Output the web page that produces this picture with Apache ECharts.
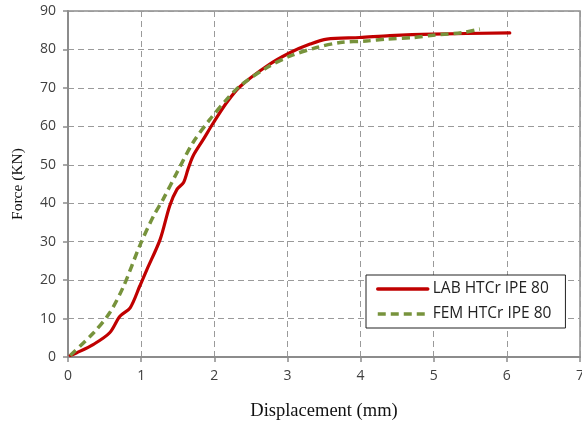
<!DOCTYPE html>
<html>
<head>
<meta charset="utf-8">
<script src="https://cdn.jsdelivr.net/npm/echarts@6/dist/echarts.min.js"></script>
<style>
  html, body { margin: 0; padding: 0; background: #fff; }
  #chart { width: 582px; height: 425px; }
</style>
</head>
<body>
<div id="chart"></div>
<script>
// Load–displacement response of the HTCr IPE 80 specimen
const labDisp = [0.03, 0.12, 0.35, 0.57, 0.71, 0.85, 0.98, 1.08, 1.26, 1.39, 1.49, 1.58, 1.64, 1.71, 1.85, 1.99, 2.17, 2.35, 2.72, 3.04, 3.31, 3.54, 3.99, 4.40, 4.99, 6.04];
const labForce = [0.4, 1.1, 3.3, 6.3, 10.6, 12.8, 18.4, 22.8, 30.6, 39.3, 43.6, 45.4, 48.8, 52.3, 56.6, 61.0, 66.2, 70.3, 75.7, 79.2, 81.4, 82.7, 83.1, 83.6, 84.0, 84.3];

const femDisp = [0.03, 0.35, 0.57, 0.76, 0.98, 1.17, 1.30, 1.49, 1.71, 1.94, 2.17, 2.35, 2.72, 3.04, 3.40, 3.72, 4.08, 4.36, 4.72, 4.99, 5.40, 5.63];
const femForce = [0.4, 6.3, 11.5, 18.4, 28.9, 36.7, 41.0, 48.0, 55.8, 61.8, 67.0, 70.5, 75.3, 78.3, 80.5, 81.8, 82.2, 82.7, 83.1, 83.7, 84.4, 85.3];

const xTicks = [0, 1, 2, 3, 4, 5, 6, 7];
const yTicks = [0, 10, 20, 30, 40, 50, 60, 70, 80, 90];

const pair = (xs, ys) => xs.map((x, i) => [x, ys[i]]);

const chart = echarts.init(document.getElementById('chart'), null, { renderer: 'canvas' });

const sansFont = 'Open Sans, Liberation Sans, sans-serif';
const serifFont = 'Liberation Serif, DejaVu Serif, serif';
const axisText = { color: '#404040', fontFamily: sansFont, fontSize: 14 };
const gridLine = { show: true, lineStyle: { color: '#9a9a9a', type: [6, 4], width: 1 } };

chart.setOption({
  animation: false,
  grid: {
    left: 68, right: 2, top: 11, bottom: 68,
    containLabel: false,
    outerBoundsMode: 'none',
    show: true, borderColor: '#8c8c8c', borderWidth: 1.5, backgroundColor: 'transparent'
  },
  legend: {
    orient: 'vertical',
    left: 366, top: 275,
    padding: [6, 14, 6, 10],
    itemGap: 9,
    itemWidth: 50, itemHeight: 16,
    backgroundColor: '#fff',
    borderColor: '#222', borderWidth: 1,
    itemStyle: { opacity: 0 },
    lineStyle: { width: 3.5 },
    textStyle: { color: '#222', fontFamily: sansFont, fontSize: 15.5 },
    data: ['LAB HTCr IPE 80', 'FEM HTCr IPE 80']
  },
  xAxis: {
    type: 'value',
    min: xTicks[0], max: xTicks[xTicks.length - 1], interval: 1,
    name: 'Displacement (mm)',
    nameLocation: 'middle', nameGap: 45,
    nameTextStyle: { color: '#111', fontFamily: serifFont, fontSize: 18.5 },
    axisLine: { show: true, lineStyle: { color: '#8c8c8c', width: 2 } },
    axisTick: { show: true, length: 5, inside: false, lineStyle: { color: '#8c8c8c', width: 1.5 } },
    axisLabel: Object.assign({ margin: 12 }, axisText),
    splitLine: gridLine
  },
  yAxis: {
    type: 'value',
    min: yTicks[0], max: yTicks[yTicks.length - 1], interval: 10,
    name: 'Force (KN)',
    nameLocation: 'middle', nameGap: 42, nameRotate: 90,
    nameTextStyle: { color: '#111', fontFamily: serifFont, fontSize: 15.5 },
    axisLine: { show: true, lineStyle: { color: '#8c8c8c', width: 2 } },
    axisTick: { show: true, length: 5, lineStyle: { color: '#8c8c8c', width: 1.5 } },
    axisLabel: Object.assign({ margin: 12 }, axisText),
    splitLine: gridLine
  },
  series: [
    {
      name: 'LAB HTCr IPE 80',
      type: 'line',
      data: pair(labDisp, labForce),
      smooth: 0.3,
      symbol: 'none',
      lineStyle: { color: '#c00000', width: 3.2, cap: 'round' },
      itemStyle: { color: '#c00000' },
      z: 3
    },
    {
      name: 'FEM HTCr IPE 80',
      type: 'line',
      data: pair(femDisp, femForce),
      smooth: 0.3,
      symbol: 'none',
      lineStyle: { color: '#77933c', width: 3.5, type: [8, 5], cap: 'butt' },
      itemStyle: { color: '#77933c' },
      z: 4
    }
  ]
});
</script>
</body>
</html>
